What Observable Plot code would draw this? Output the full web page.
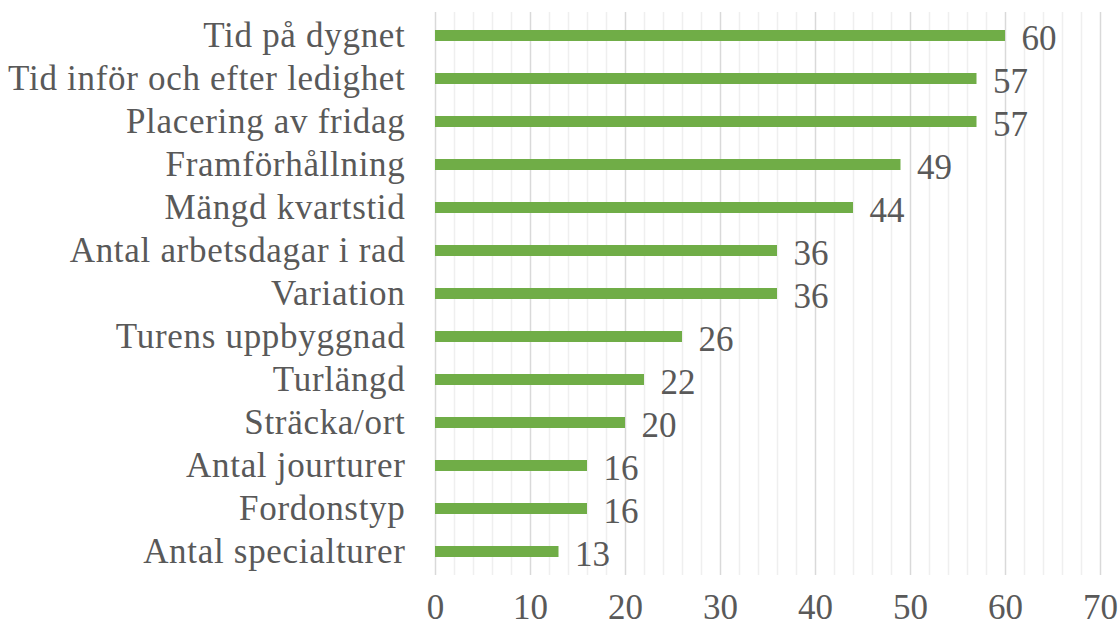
<!DOCTYPE html>
<html><head><meta charset="utf-8">
<script src="https://cdn.jsdelivr.net/npm/d3@7"></script>
<script src="https://cdn.jsdelivr.net/npm/@observablehq/plot@0.6"></script>
<style>body{margin:0;background:#fff} g[aria-label="y-axis tick label"] text{letter-spacing:0.7px}</style>
</head><body><div id="chart"></div>
<script>
const categories = ["Tid på dygnet","Tid inför och efter ledighet","Placering av fridag","Framförhållning","Mängd kvartstid","Antal arbetsdagar i rad","Variation","Turens uppbyggnad","Turlängd","Sträcka/ort","Antal jourturer","Fordonstyp","Antal specialturer"];
const values = [60,57,57,49,44,36,36,26,22,20,16,16,13];
const xTicks = [0,10,20,30,40,50,60,70];
const minorTicks = d3.range(0,71,2).filter(d => d % 10 !== 0);
const data = categories.map((c,i)=>({cat:c, value:values[i]}));
const font = "'Liberation Serif', serif";
const txt = "#595959";
const fs = 35;
const chart = Plot.plot({
  width:1119, height:631,
  marginLeft:435, marginRight:19, marginTop:12, marginBottom:56,
  style:{fontFamily:font, fontSize:fs+"px", color:txt, background:"#fff"},
  x:{domain:[0,70], label:null},
  y:{domain:categories, padding:0, label:null},
  marks:[
    Plot.ruleX(minorTicks,{stroke:"#efefef", strokeWidth:1.5}),
    Plot.ruleX(xTicks,{stroke:"#d9d9d9", strokeWidth:1.5}),
    Plot.barX(data,{x:"value", y:"cat", fill:"#70AD47", insetTop:16, insetBottom:16}),
    Plot.text(data,{x:"value", y:"cat", text:d=>String(d.value), textAnchor:"start", dx:16, dy:3, fill:txt, fontSize:fs}),
    Plot.axisX({ticks:xTicks, tickSize:0, tickPadding:19, fontSize:fs, fill:txt, label:null}),
    Plot.axisY({tickSize:0, tickPadding:30, fontSize:fs, fill:txt, label:null})
  ]
});
document.getElementById("chart").append(chart);
</script></body></html>
